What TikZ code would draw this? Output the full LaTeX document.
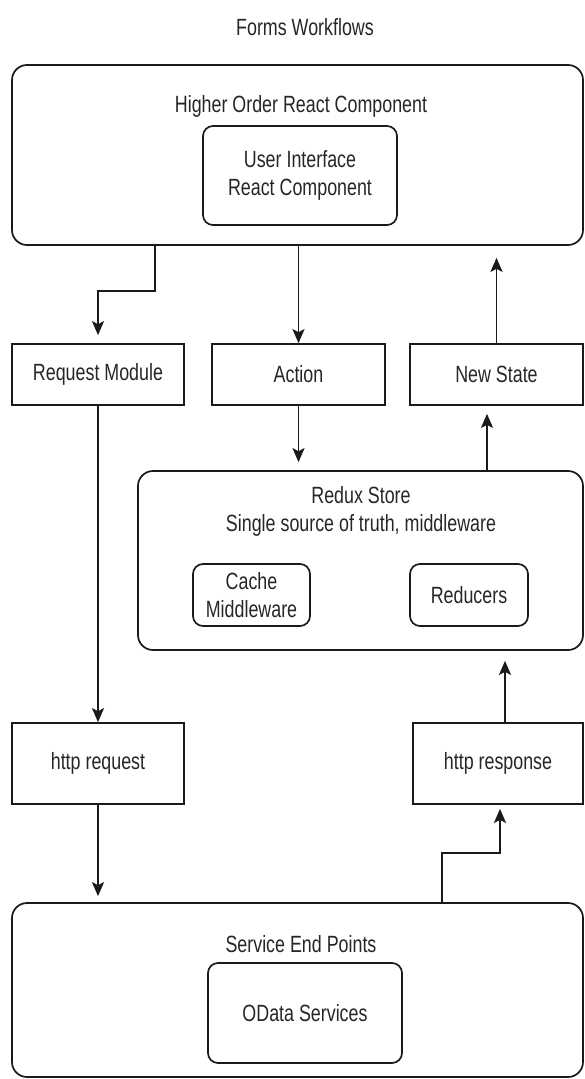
\documentclass[tikz,border=0pt]{standalone}
\usepackage{fontspec}
\setmainfont{Liberation Sans}[FakeStretch=0.76]
\usepackage{tikz}
\usetikzlibrary{arrows.meta,calc}
\definecolor{linegray}{HTML}{1A1A1A}
\definecolor{textgray}{HTML}{262626}

\begin{document}
\begin{tikzpicture}[x=1pt,y=-1pt,
  font=\fontsize{23.5}{28}\selectfont,
  every node/.style={text=textgray,align=center,inner sep=0pt},
  outerbox/.style={draw=linegray,line width=1.7pt,rounded corners=15pt},
  innerbox/.style={draw=linegray,line width=1.7pt,rounded corners=10pt},
  plainbox/.style={draw=linegray,line width=1.7pt},
  arr/.style={draw=linegray,line width=1.5pt,-{Stealth[length=14pt,width=12pt,inset=3pt]}}]
\useasboundingbox (0,0) rectangle (584,1079);

\node at (305,27) (title) {Forms Workflows};

% top component
\node[outerbox,minimum width=571pt,minimum height=180pt] at (297.5,155) (hoc) {};
\node at (301,106) (hoclabel) {Higher Order React Component};
\node[innerbox,minimum width=194pt,minimum height=99pt] at (300,175.5) (ui) {User Interface\\React Component};

% middle row
\node[plainbox,minimum width=172pt,minimum height=61pt] at (98,374.5) (reqmod) {Request Module};
\node[plainbox,minimum width=173pt,minimum height=61pt] at (298.5,374.5) (action) {Action};
\node[plainbox,minimum width=173pt,minimum height=61pt] at (496.5,374.5) (newstate) {New State};

% store
\node[outerbox,minimum width=445pt,minimum height=179pt] at (360.5,560.5) (redux) {};
\node at (361,511) (reduxlabel) {Redux Store\\Single source of truth, middleware};
\node[innerbox,minimum width=117pt,minimum height=62pt] at (251.5,595) (cache) {Cache\\Middleware};
\node[innerbox,minimum width=118pt,minimum height=62pt] at (469,595) (reducers) {Reducers};

% http
\node[plainbox,minimum width=172pt,minimum height=81pt] at (98,763.5) (httpreq) {http request};
\node[plainbox,minimum width=170pt,minimum height=81pt] at (498,763.5) (httpresp) {http response};

% services
\node[outerbox,minimum width=571pt,minimum height=174pt] at (297.5,990) (service) {};
\node at (301,944) (servicelabel) {Service End Points};
\node[innerbox,minimum width=194pt,minimum height=100pt] at (305,1013) (odata) {OData Services};

% bend points
\coordinate (reqbend) at (155,291);
\coordinate (storeup) at (487,0);
\coordinate (respup) at (505,0);
\coordinate (svcbend) at (442,853);
\coordinate (svcend) at (500,0);

\draw[arr,shorten >=8pt] (hoc.south -| reqbend) -- (reqbend) -| (reqmod.north);
\draw[arr] (hoc.south -| action.north) -- (action.north);
\draw[arr,shorten >=12pt] (newstate.north) -- (newstate.north |- hoc.south);
\draw[arr,shorten >=8pt] (action.south) -- (action.south |- redux.north);
\draw[arr,shorten >=8pt] (redux.north -| storeup) -- (newstate.south -| storeup);
\draw[arr] (reqmod.south) -- (httpreq.north);
\draw[arr,shorten >=10pt] (httpresp.north -| respup) -- (redux.south -| respup);
\draw[arr,shorten >=6pt] (httpreq.south) -- (service.north -| httpreq.south);
\draw[arr,shorten >=4pt] (service.north -| svcbend) -- (svcbend) -| (httpresp.south -| svcend);
\end{tikzpicture}
\end{document}
